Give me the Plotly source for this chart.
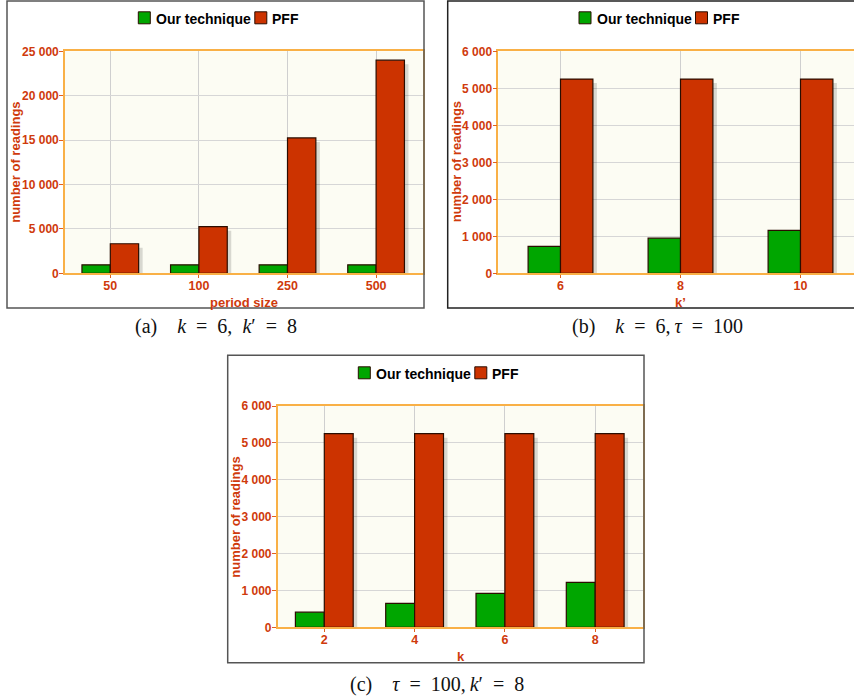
import plotly.graph_objects as go

W, H = 854, 700

# ---------------- data ----------------
series_names = ["Our technique", "PFF"]
y_title = "number of readings"

a_categories = ["50", "100", "250", "500"]
a_ours = [950, 950, 950, 950]
a_pff = [3330, 5250, 15250, 24000]

b_categories = ["6", "8", "10"]
b_ours = [730, 950, 1160]
b_pff = [5250, 5250, 5250]

c_categories = ["2", "4", "6", "8"]
c_ours = [410, 650, 920, 1220]
c_pff = [5250, 5250, 5250, 5250]

x_titles = ["period size", "k’", "k"]
captions = [
    "(a)\u2003<i>k</i>\u2002=\u20026,\u2002<i>k</i>′\u2002=\u20028",
    "(b)\u2003<i>k</i>\u2002=\u20026,\u2009<i>τ</i>\u2002=\u2002100",
    "(c)\u2003<i>τ</i>\u2002=\u2002100,\u2009<i>k</i>′\u2002=\u20028",
]
y_maxes = [25000, 6000, 6000]

# ---------------- style / layout ----------------
GREEN = "#00a600"
RED = "#cc3300"
OUTLINE = "#2b0d00"
TXT = "#cf3a0c"
ORANGE = "#f9b046"
SHADOW = "rgba(0,0,0,0.14)"
FONT = "Liberation Sans, Arial, sans-serif"
SERIES_COLORS = [GREEN, RED]
LEGEND_TEXT_W = [95, 26]   # approx rendered widths of legend labels (px)

def px_x(x):
    return x / W

def px_y(y):
    return 1 - y / H

panels = [
    dict(cats=a_categories, ours=a_ours, pff=a_pff, plot=(65, 51.3, 422.7, 273.3),
         first_c=110.3, spacing=88.6, bw=0.32, box=(7, 1, 424, 308), boxcol="#555555",
         legend=(138.3, 17.8), caption_c=(216, 326), ytitle_x=15.5, xtitle_y=302,
         xtitle_x=244, mirror_y=True),
    dict(cats=b_categories, ours=b_ours, pff=b_pff, plot=(498.3, 51.3, 854, 273.3),
         first_c=560.5, spacing=120, bw=0.27, box=(447.7, 1, 858, 308), boxcol="#222222",
         legend=(579, 17.8), caption_c=(657, 326), ytitle_x=456, xtitle_y=302,
         xtitle_x=680, mirror_y=False),
    dict(cats=c_categories, ours=c_ours, pff=c_pff, plot=(277.7, 406, 642.7, 627.3),
         first_c=324.3, spacing=90.3, bw=0.32, box=(227.7, 355.3, 644, 662.7), boxcol="#555555",
         legend=(358.3, 372.8), caption_c=(437, 684), ytitle_x=236, xtitle_y=656,
         xtitle_x=460.5, mirror_y=True),
]

fig = go.Figure()
shapes = []
annotations = []
layout = {}

for i, p in enumerate(panels):
    n = "" if i == 0 else str(i + 1)
    xa, ya = "x" + n, "y" + n
    x0, y0, x1, y1 = p["plot"]
    sp = p["spacing"]
    ymax = y_maxes[i]
    data_per_px = ymax / (y1 - y0)
    bw = p["bw"]

    # drop shadow of the PFF bars (4px right, 4px down)
    fig.add_trace(go.Bar(
        x=p["cats"], y=[v - 4 * data_per_px for v in p["pff"]],
        offset=4 / sp, width=bw, marker=dict(color=SHADOW, line=dict(width=0)),
        showlegend=False, hoverinfo="skip", xaxis=xa, yaxis=ya))
    fig.add_trace(go.Bar(
        x=p["cats"], y=p["ours"], name=series_names[0], offset=-bw, width=bw,
        marker=dict(color=GREEN, line=dict(color=OUTLINE, width=1.2)),
        showlegend=False, xaxis=xa, yaxis=ya))
    fig.add_trace(go.Bar(
        x=p["cats"], y=p["pff"], name=series_names[1], offset=0, width=bw,
        marker=dict(color=RED, line=dict(color=OUTLINE, width=1.2)),
        showlegend=False, xaxis=xa, yaxis=ya))

    r0 = -(p["first_c"] - x0) / sp
    r1 = r0 + (x1 - x0) / sp

    layout["xaxis" + n] = dict(
        domain=[px_x(x0), px_x(x1)], anchor=ya, type="category",
        range=[r0, r1], showgrid=True, gridcolor="#cfcfcf", gridwidth=1,
        showline=True, linecolor=ORANGE, linewidth=1.6, mirror=True,
        ticks="outside", ticklen=3, tickcolor="#e2601e", ticklabelstandoff=-3,
        tickfont=dict(family=FONT, size=12.5, color=TXT, weight="bold"),
        fixedrange=True)
    layout["yaxis" + n] = dict(
        domain=[px_y(y1), px_y(y0)], anchor=xa, range=[0, ymax],
        dtick=ymax / 5 if i == 0 else 1000, tickformat=",d",
        showgrid=True, gridcolor="#d6d6d6", gridwidth=1.2, zeroline=False,
        showline=True, linecolor=ORANGE, linewidth=1.6, mirror=p["mirror_y"],
        ticks="outside", ticklen=4, tickcolor="#e2601e", ticklabelstandoff=-2,
        tickfont=dict(family=FONT, size=12, color=TXT, weight="bold"),
        fixedrange=True)

    # legend: swatch + label for each series
    lx, ly = p["legend"]
    for s, name in enumerate(series_names):
        shapes.append(dict(type="rect", xref="paper", yref="paper",
                           x0=px_x(lx), x1=px_x(lx + 12),
                           y0=px_y(ly - 6), y1=px_y(ly + 6),
                           fillcolor=SERIES_COLORS[s], line=dict(color=OUTLINE, width=1)))
        annotations.append(dict(text="<b>" + name + "</b>", xref="paper", yref="paper",
                                x=px_x(lx + 15.5), y=px_y(ly + 1), xanchor="left",
                                yanchor="middle", showarrow=False,
                                font=dict(family=FONT, size=14, color="#000000")))
        lx += 12 + 4.5 + LEGEND_TEXT_W[s] + 5

    bx0, by0, bx1, by1 = p["box"]
    shapes.append(dict(type="rect", xref="paper", yref="paper",
                       x0=px_x(bx0), x1=px_x(bx1), y0=px_y(by0), y1=px_y(by1),
                       line=dict(color=p["boxcol"], width=1.5), fillcolor="rgba(0,0,0,0)"))

    annotations.append(dict(text=y_title, textangle=-90, xref="paper", yref="paper",
                            x=px_x(p["ytitle_x"]), y=px_y((y0 + y1) / 2),
                            xanchor="center", yanchor="middle", showarrow=False,
                            font=dict(family=FONT, size=13, color=TXT, weight="bold")))
    annotations.append(dict(text=x_titles[i], xref="paper", yref="paper",
                            x=px_x(p["xtitle_x"]), y=px_y(p["xtitle_y"]),
                            xanchor="center", yanchor="middle", showarrow=False,
                            font=dict(family=FONT, size=13, color=TXT, weight="bold")))
    cx, cy = p["caption_c"]
    annotations.append(dict(text=captions[i], xref="paper", yref="paper",
                            x=px_x(cx), y=px_y(cy), xanchor="center", yanchor="middle",
                            showarrow=False,
                            font=dict(family="Liberation Serif, DejaVu Serif, serif",
                                      size=20, color="#111111")))

fig.update_layout(
    width=W, height=H, margin=dict(l=0, r=0, t=0, b=0, autoexpand=False),
    paper_bgcolor="white", plot_bgcolor="#fcfcf3",
    barmode="overlay", separators=". ", showlegend=False,
    shapes=shapes, annotations=annotations, **layout)

fig.write_html("out.html")
